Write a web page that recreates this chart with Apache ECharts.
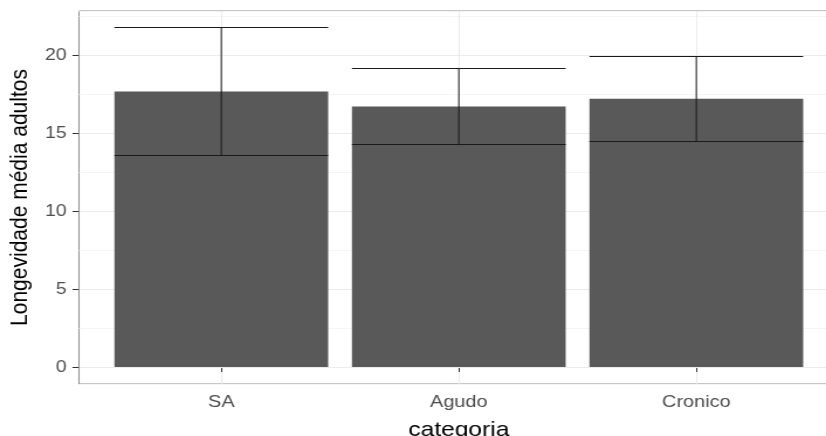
<!DOCTYPE html>
<html>
<head>
<meta charset="utf-8">
<script src="https://cdn.jsdelivr.net/npm/echarts@6/dist/echarts.min.js"></script>
<style>
  html, body { margin: 0; padding: 0; background: #ffffff; }
  #wrap { width: 826px; height: 436px; overflow: hidden; position: relative; }
  #chart { height: 436px; transform-origin: 0 0; }
</style>
</head>
<body>
<div id="wrap"><div id="chart"></div></div>
<script>
// Mean adult longevity per category, with lower/upper error limits
const categories = ['SA', 'Agudo', 'Cronico'];
const meanValues = [17.66, 16.70, 17.20];
const lowerValues = [13.58, 14.27, 14.48];
const upperValues = [21.74, 19.13, 19.92];
const yTickValues = [0, 5, 10, 15, 20];
const yTickStep = 5;

// ggplot-style 5% expansion around [0, highest upper limit]
const yTop = Math.max(...upperValues);
const yMax = yTop * 1.05;
const yMin = -yTop * 0.05;

// The figure is drawn narrower and widened horizontally by SX (wide lettering)
const SX = 1.17;
const W = 826, H = 436;
const innerW = W / SX;
const hx = v => v / SX;   // horizontal page pixels -> drawing pixels

const el = document.getElementById('chart');
el.style.width = innerW + 'px';
el.style.transform = 'scaleX(' + SX + ')';

const FONT = 'Arial, "Liberation Sans", Helvetica, sans-serif';
const crisp = v => Math.round(v - 0.5) + 0.5;

const chart = echarts.init(el, null, { renderer: 'canvas' });

const panelLeft = 79, panelRight = 838.5, firstCat = 221.3, lastCat = 696.3;

chart.setOption({
  animation: false,
  backgroundColor: '#ffffff',
  grid: [
    // full panel: border and horizontal grid lines
    {
      left: hx(panelLeft), right: innerW - hx(panelRight), top: 11, bottom: 52,
      outerBoundsMode: 'none', containLabel: false,
      show: true, borderColor: '#8c8c8c', borderWidth: 1, backgroundColor: 'transparent'
    },
    // category centres: first to last category
    {
      left: hx(firstCat), right: innerW - hx(lastCat), top: 11, bottom: 52,
      outerBoundsMode: 'none', containLabel: false
    }
  ],
  xAxis: [
    { gridIndex: 0, type: 'value', min: 0, max: 1, show: false },
    {
      gridIndex: 1, type: 'category', data: categories, boundaryGap: false, position: 'bottom',
      axisLine: { show: false },
      axisTick: { show: true, length: 5, lineStyle: { color: '#333333' } },
      axisLabel: { color: '#4d4d4d', fontSize: 17, fontFamily: FONT, margin: 10 },
      splitLine: { show: true, lineStyle: { color: '#ebebeb', width: 1 } },
      name: 'categoria', nameLocation: 'middle', nameGap: 36,
      nameTextStyle: { color: '#000000', fontSize: 21, fontFamily: FONT }
    }
  ],
  yAxis: [
    {
      // minor grid lines
      gridIndex: 0, type: 'value', position: 'left', min: yMin, max: yMax,
      minInterval: yTickStep / 2, maxInterval: yTickStep / 2,
      axisLine: { show: false }, axisTick: { show: false }, axisLabel: { show: false },
      splitLine: { show: true, lineStyle: { color: '#f4f4f4', width: 1 } },
      z: 0
    },
    {
      gridIndex: 0, type: 'value', position: 'left', offset: 0, min: yMin, max: yMax,
      minInterval: yTickStep, maxInterval: yTickStep,
      axisLine: { show: false },
      axisTick: { show: true, length: hx(6.5), customValues: yTickValues, lineStyle: { color: '#333333' } },
      axisLabel: {
        color: '#4d4d4d', fontSize: 16.5, fontFamily: FONT, margin: hx(12.5),
        customValues: yTickValues
      },
      splitLine: { show: true, lineStyle: { color: '#ebebeb', width: 1 } },
      name: 'Longevidade média adultos', nameLocation: 'middle', nameRotate: 90, nameGap: hx(46),
      nameTextStyle: { color: '#000000', fontSize: 21, fontFamily: FONT },
      z: 1
    },
    { gridIndex: 1, type: 'value', min: yMin, max: yMax, show: false }
  ],
  series: [
    {
      type: 'bar', xAxisIndex: 1, yAxisIndex: 2,
      data: meanValues, barWidth: '90%', clip: false,
      itemStyle: { color: '#595959' }, z: 2
    },
    {
      type: 'custom', xAxisIndex: 1, yAxisIndex: 2, clip: false, z: 3,
      data: categories.map((c, i) => [i, lowerValues[i], upperValues[i]]),
      renderItem(params, api) {
        const idx = api.value(0);
        const lo = api.coord([idx, api.value(1)]);
        const hi = api.coord([idx, api.value(2)]);
        const half = api.size([1, 0])[0] * 0.9 / 2;
        const yl = crisp(lo[1]);
        const yh = crisp(hi[1]);
        const style = { stroke: '#1a1a1a', lineWidth: 1, fill: null };
        return {
          type: 'group',
          children: [
            { type: 'line', shape: { x1: lo[0] - half, y1: yh, x2: lo[0] + half, y2: yh }, style },
            { type: 'line', shape: { x1: lo[0] - half, y1: yl, x2: lo[0] + half, y2: yl }, style },
            { type: 'line', shape: { x1: lo[0], y1: yh, x2: lo[0], y2: yl }, style }
          ]
        };
      }
    }
  ]
});
</script>
</body>
</html>
